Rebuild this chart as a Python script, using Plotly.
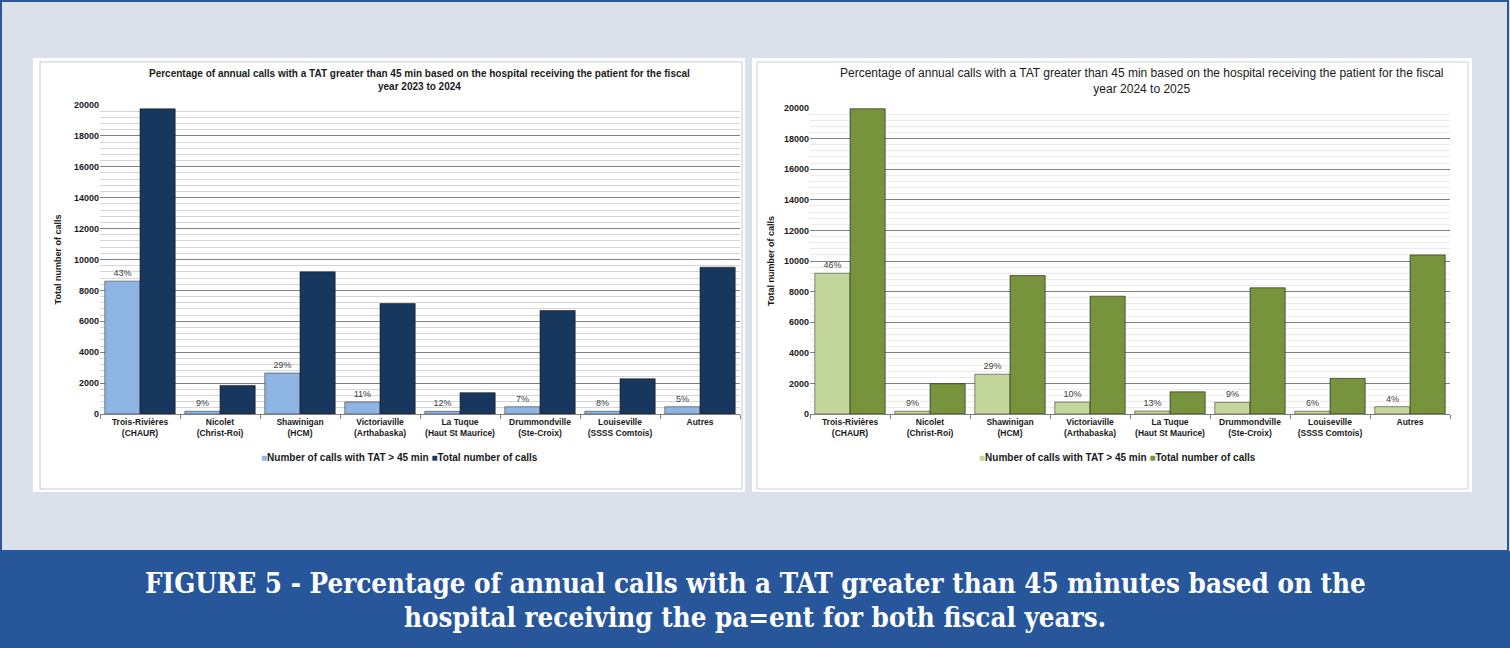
import plotly.graph_objects as go

W, H = 1510, 648

# categories (hospitals)
hospitals = ["Trois-Rivières<br>(CHAUR)", "Nicolet<br>(Christ-Roi)", "Shawinigan<br>(HCM)",
             "Victoriaville<br>(Arthabaska)", "La Tuque<br>(Haut St Maurice)",
             "Drummondville<br>(Ste-Croix)", "Louiseville<br>(SSSS Comtois)", "Autres"]

# fiscal year 2023 to 2024
tat_2324 = [8600, 180, 2650, 780, 170, 470, 180, 470]
total_2324 = [19750, 1850, 9200, 7150, 1380, 6700, 2280, 9500]
pct_2324 = ["43%", "9%", "29%", "11%", "12%", "7%", "8%", "5%"]

# fiscal year 2024 to 2025
tat_2425 = [9200, 180, 2600, 780, 190, 760, 180, 480]
total_2425 = [19950, 1980, 9050, 7700, 1450, 8250, 2320, 10400]
pct_2425 = ["46%", "9%", "29%", "10%", "13%", "9%", "6%", "4%"]

series_names = ["Number of calls with TAT > 45 min", "Total number of calls"]
title_2324 = "Percentage of annual calls with a TAT greater than 45 min based on the hospital receiving the patient for the fiscal<br>year 2023 to 2024"
title_2425 = "Percentage of annual calls with a TAT greater than 45 min based on the hospital receiving the patient for the fiscal<br>year 2024 to 2025"
caption_lines = ["FIGURE 5 - Percentage of annual calls with a TAT greater than 45 minutes based on the",
                 "hospital receiving the pa=ent for both fiscal years."]

colors_2324 = ["#8EB4E3", "#17375E"]
colors_2425 = ["#C3D69B", "#77933C"]

SANS = "Liberation Sans Narrow, Arial Narrow, Liberation Sans, Arial, sans-serif"
SERIF = "DejaVu Serif Condensed, DejaVu Serif, Liberation Serif, serif"


def px(x):
    return x / W


def py(y):
    return 1 - y / H


fig = go.Figure()

fig.add_trace(go.Bar(x=hospitals, y=tat_2324, name=series_names[0],
                     marker=dict(color=colors_2324[0], line=dict(color="#3A3A3A", width=0.6)),
                     text=pct_2324, textposition="outside", cliponaxis=False,
                     textfont=dict(size=9, color="#404040", family=SANS),
                     xaxis="x", yaxis="y"))
fig.add_trace(go.Bar(x=hospitals, y=total_2324, name=series_names[1],
                     marker=dict(color=colors_2324[1], line=dict(color="#1A1A1A", width=0.6)),
                     xaxis="x", yaxis="y"))
fig.add_trace(go.Bar(x=hospitals, y=tat_2425, name=series_names[0],
                     marker=dict(color=colors_2425[0], line=dict(color="#3A3A3A", width=0.6)),
                     text=pct_2425, textposition="outside", cliponaxis=False,
                     textfont=dict(size=9, color="#404040", family=SANS),
                     xaxis="x2", yaxis="y2"))
fig.add_trace(go.Bar(x=hospitals, y=total_2425, name=series_names[1],
                     marker=dict(color=colors_2425[1], line=dict(color="#1A1A1A", width=0.6)),
                     xaxis="x2", yaxis="y2"))

xcommon = dict(type="category", showgrid=False, showline=True, linecolor="#7F7F7F",
               ticks="outside", tickson="boundaries", ticklen=4, tickcolor="#7F7F7F",
               tickangle=0, automargin=False,
               tickfont=dict(size=8.5, color="#1A1A1A", family=SANS, weight="bold"),
               fixedrange=True)


def yaxis_style(standoff):
    return dict(range=[0, 20000], dtick=2000, tickformat="d", showline=False, ticks="",
                gridcolor="#808080", gridwidth=1, zeroline=False, fixedrange=True,
                automargin=False,
                tickfont=dict(size=9, color="#1A1A1A", family=SANS, weight="bold"),
                title=dict(text="<b>Total number of calls</b>", standoff=standoff,
                           font=dict(size=9, color="#1A1A1A", family=SANS)))


shapes = [
    # outer frame
    dict(type="rect", xref="paper", yref="paper", x0=px(1), x1=px(1508), y0=py(551), y1=py(1),
         line=dict(color="#2B5797", width=2), fillcolor="rgba(0,0,0,0)", layer="below"),
    # caption band
    dict(type="rect", xref="paper", yref="paper", x0=0, x1=1, y0=0, y1=py(551),
         line=dict(width=0), fillcolor="#28569A", layer="below"),
    # chart panels
    dict(type="rect", xref="paper", yref="paper", x0=px(33), x1=px(745), y0=py(492), y1=py(58),
         line=dict(width=0), fillcolor="white", layer="below"),
    dict(type="rect", xref="paper", yref="paper", x0=px(40), x1=px(742), y0=py(489), y1=py(62),
         line=dict(color="#C8C8C8", width=1), fillcolor="white", layer="below"),
    dict(type="rect", xref="paper", yref="paper", x0=px(752), x1=px(1472), y0=py(492), y1=py(58),
         line=dict(width=0), fillcolor="white", layer="below"),
    dict(type="rect", xref="paper", yref="paper", x0=px(757), x1=px(1468), y0=py(489), y1=py(62),
         line=dict(color="#D0D0D0", width=1), fillcolor="white", layer="below"),
]

annotations = [
    dict(text="<b>" + title_2324 + "</b>", x=px(420), y=py(80), xref="paper", yref="paper",
         xanchor="center", yanchor="middle", showarrow=False,
         font=dict(size=10, color="#1A1A1A", family=SANS)),
    dict(text=title_2425, x=px(1141), y=py(81), xref="paper", yref="paper",
         xanchor="center", yanchor="middle", showarrow=False,
         font=dict(size=12, color="#1A1A1A", family=SANS)),
]
for line, yc in zip(caption_lines, [583, 617]):
    annotations.append(dict(text="<b>" + line + "</b>", x=0.5, y=py(yc), xref="paper", yref="paper",
                            xanchor="center", yanchor="middle", showarrow=False,
                            font=dict(size=27.5, color="white", family=SERIF)))

# compact Excel-like legends under each chart
for cols, xc in [(colors_2324, 399), (colors_2425, 1117)]:
    legend_text = "".join(
        "<span style='color:%s'>■</span>%s " % (c, n) for c, n in zip(cols, series_names)
    ).strip()
    annotations.append(dict(text="<b>" + legend_text + "</b>", x=px(xc), y=py(457),
                            xref="paper", yref="paper", xanchor="center", yanchor="middle",
                            showarrow=False,
                            font=dict(size=10, color="#1A1A1A", family=SANS)))

fig.update_layout(
    width=W, height=H,
    margin=dict(l=0, r=0, t=0, b=0, pad=0, autoexpand=False),
    paper_bgcolor="#DAE1EB", plot_bgcolor="white",
    barmode="group", bargap=0.12, bargroupgap=0,
    showlegend=False,
    font=dict(family=SANS),
    xaxis=dict(domain=[px(100), px(740)], anchor="y", **xcommon),
    yaxis=dict(domain=[py(414), py(105)], anchor="x",
               minor=dict(dtick=400, showgrid=True, gridcolor="#D6D6D6", gridwidth=1),
               **yaxis_style(10)),
    xaxis2=dict(domain=[px(810), px(1450)], anchor="y2", **xcommon),
    yaxis2=dict(domain=[py(414), py(108)], anchor="x2",
                minor=dict(dtick=400, showgrid=True, gridcolor="#EBEBEB", gridwidth=1),
                **yaxis_style(7)),
    shapes=shapes,
    annotations=annotations,
)

fig.write_html("out.html", config={"displayModeBar": False},
               post_script="document.body.style.margin='0';"
                           "document.documentElement.style.overflow='hidden';")
